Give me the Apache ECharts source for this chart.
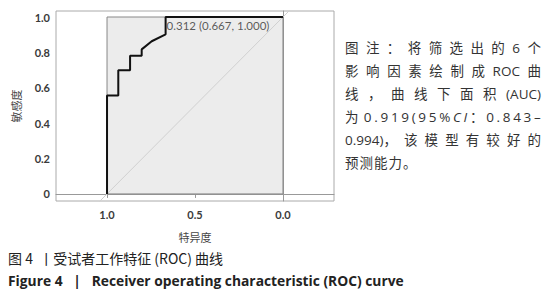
<!DOCTYPE html>
<html><head><meta charset="utf-8">
<script src="https://cdn.jsdelivr.net/npm/echarts@6/dist/echarts.min.js"></script>
<style>
html,body{margin:0;padding:0;background:#fff;}
#wrap{position:relative;width:554px;height:300px;}
#chart{position:absolute;left:0;top:0;width:554px;height:300px;}
#note{position:absolute;left:345px;top:37px;width:196px;font-family:"Open Sans","Noto Sans CJK SC",sans-serif;font-size:13.5px;line-height:23px;color:#333;}
#note div{white-space:nowrap;}
#note div.j{display:flex;justify-content:space-between;}
</style></head>
<body><div id="wrap"><div id="chart"></div>
<div id="note">
<div class="j"><span>图</span><span>注</span><span>：</span><span>将</span><span>筛</span><span>选</span><span>出</span><span>的</span><span>6</span><span>个</span></div>
<div class="j"><span>影</span><span>响</span><span>因</span><span>素</span><span>绘</span><span>制</span><span>成</span><span>ROC</span><span>曲</span></div>
<div class="j"><span>线</span><span>，</span><span>曲</span><span>线</span><span>下</span><span>面</span><span>积</span><span>(AUC)</span></div>
<div class="j"><span>为</span><span> </span><span>0</span><span>.</span><span>9</span><span>1</span><span>9</span><span>(</span><span>9</span><span>5</span><span>%</span><span><i>C</i></span><span><i>I</i></span><span>：</span><span>0</span><span>.</span><span>8</span><span>4</span><span>3</span><span>–</span></div>
<div class="j"><span>0.994)，</span><span>该</span><span>模</span><span>型</span><span>有</span><span>较</span><span>好</span><span>的</span></div>
<div><span style="letter-spacing:1px">预测能力。</span></div>
</div></div>
<script>
// Data
const specificity = [1, 1, 0.936, 0.936, 0.869, 0.869, 0.803, 0.803, 0.746, 0.667, 0.667, 0];
const sensitivity = [0, 0.556, 0.556, 0.699, 0.699, 0.781, 0.781, 0.817, 0.863, 0.902, 1, 1];
const cutoffPoint = [0.667, 1.0];
const cutoffLabel = '0.312 (0.667, 1.000)';
const aucText = 'AUC：0.919';
const xTicks = [0, 0.5, 1.0];
const yTicks = [0, 0.2, 0.4, 0.6, 0.8, 1.0];
const boxRange = [0, 1];
const refLine = [[1.29, -0.29], [-0.29, 1.29]];

const chart = echarts.init(document.getElementById('chart'), null, {renderer: 'svg'});
const tickFont = {fontFamily: 'Lato, "Noto Sans CJK SC"', fontSize: 11, fontWeight: 'bold', color: '#3a3a3a'};
chart.setOption({
  animation: false,
  grid: {left: 56, right: 220, top: 11, bottom: 99, show: true, borderColor: '#aaa', borderWidth: 1, backgroundColor: '#fff'},
  xAxis: {
    type: 'value', min: -0.29, max: 1.29, inverse: true,
    name: '特异度', nameLocation: 'middle', nameGap: 30,
    nameTextStyle: {fontFamily: '"Noto Sans CJK SC"', fontSize: 11, color: '#444'},
    splitLine: {show: false},
    axisLine: {show: true, lineStyle: {color: '#999'}},
    axisTick: {show: true, customValues: xTicks, length: 4, lineStyle: {color: '#999'}},
    axisLabel: Object.assign({customValues: xTicks, margin: 8, formatter: v => v.toFixed(1)}, tickFont)
  },
  yAxis: {
    type: 'value', min: -0.04, max: 1.034,
    name: '敏感度', nameLocation: 'middle', nameGap: 35, nameRotate: 90,
    nameTextStyle: {fontFamily: '"Noto Sans CJK SC"', fontSize: 11, color: '#444'},
    splitLine: {show: false},
    axisLine: {show: true, lineStyle: {color: '#999'}},
    axisTick: {show: true, customValues: yTicks, length: 4, lineStyle: {color: '#999'}},
    axisLabel: Object.assign({customValues: yTicks, margin: 6, formatter: v => v === 0 ? '0' : v.toFixed(1)}, tickFont)
  },
  series: [
    {
      type: 'line', data: [], silent: true,
      markArea: {silent: true, itemStyle: {color: '#ececec', borderColor: '#888', borderWidth: 1},
        data: [[{xAxis: boxRange[0], yAxis: boxRange[0]}, {xAxis: boxRange[1], yAxis: boxRange[1]}]]}
    },
    {
      type: 'line', data: refLine, symbol: 'none', clip: true, silent: true,
      lineStyle: {color: '#d0d0d0', width: 1}
    },
    {
      type: 'line', data: specificity.map((s, i) => [s, sensitivity[i]]), symbol: 'none',
      lineStyle: {color: '#111', width: 2}, z: 5
    },
    {
      type: 'scatter', data: [cutoffPoint], symbolSize: 0, z: 6,
      label: {show: true, formatter: cutoffLabel, position: [1, 3], align: 'left', verticalAlign: 'top',
        fontFamily: 'Lato, "Noto Sans CJK SC"', fontSize: 11.5, color: '#333'}
    }
  ],
  graphic: [
    {type: 'text', left: 193, top: 106, style: {text: aucText, fontFamily: 'Lato, "Noto Sans CJK SC"', fontSize: 11, fontWeight: 'bold', fill: '#333'}},
    {type: 'text', left: 8, top: 251, style: {text: '图 4  丨受试者工作特征 (ROC) 曲线', fontFamily: '"Noto Sans CJK SC"', fontSize: 14, fill: '#222'}},
    {type: 'text', left: 8, top: 273, style: {text: 'Figure 4   |   Receiver operating characteristic (ROC) curve', fontFamily: '"Open Sans"', fontSize: 13.8, fontWeight: 'bold', fill: '#222'}}
  ]
});
</script></body></html>
